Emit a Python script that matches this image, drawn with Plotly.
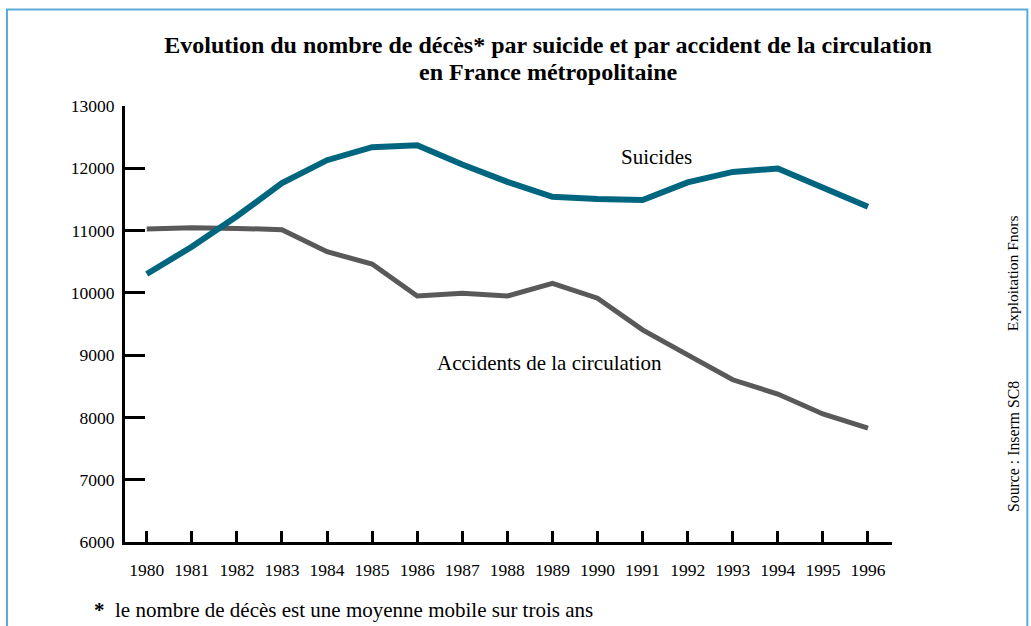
import plotly.graph_objects as go

years = list(range(1980, 1997))
suicides = [10303, 10740, 11230, 11761, 12130, 12338, 12370, 12061, 11782,
            11542, 11505, 11489, 11773, 11942, 11997, 11692, 11381]
accidents = [11024, 11045, 11035, 11015, 10660, 10463, 9950, 9994, 9950,
             10154, 9914, 9406, 9005, 8604, 8375, 8055, 7830]
y_ticks = [6000, 7000, 8000, 9000, 10000, 11000, 12000, 13000]
y_labels = [str(v) for v in y_ticks]
x_labels = [str(y) for y in years]

W, H = 1031, 626
L, R, T, B = 125, 891.7, 105.7, 542.5
PW, PH = R - L, B - T


def px(x):
    return (x - L) / PW


def py(y):
    return (B - y) / PH


SERIF = "Liberation Serif"

fig = go.Figure()
fig.add_trace(go.Scatter(x=years, y=accidents, mode="lines",
                         line=dict(color="#595959", width=5),
                         name="Accidents de la circulation", showlegend=False))
fig.add_trace(go.Scatter(x=years, y=suicides, mode="lines",
                         line=dict(color="#00657f", width=6),
                         name="Suicides", showlegend=False))

fig.update_layout(
    width=W, height=H, autosize=False,
    margin=dict(l=L, r=W - R, t=T, b=H - B),
    paper_bgcolor="white", plot_bgcolor="white",
    font=dict(family=SERIF, size=17, color="black"),
    title=dict(
        text="<b>Evolution du nombre de décès* par suicide et par accident de la circulation</b>",
        font=dict(family=SERIF, size=24, color="black"),
        xref="container", yref="container",
        x=548 / W, xanchor="center", y=1 - 45 / H, yanchor="middle",
    ),
    xaxis=dict(
        range=[1979.518, 1996.533], tickmode="array", tickvals=years, ticktext=x_labels,
        ticks="inside", ticklen=11, tickwidth=2.5, tickcolor="black",
        showline=True, linecolor="black", linewidth=3,
        showgrid=False, zeroline=False, ticklabelstandoff=10,
        tickfont=dict(family=SERIF, size=17.5, color="black"),
    ),
    yaxis=dict(
        range=[6000, 13000], tickmode="array", tickvals=y_ticks, ticktext=y_labels,
        ticks="inside", ticklen=20, tickwidth=2.5, tickcolor="black",
        showline=True, linecolor="black", linewidth=3,
        showgrid=False, zeroline=False, ticklabelstandoff=4,
        tickfont=dict(family=SERIF, size=17.5, color="black"),
    ),
)

fig.add_shape(type="path",
              path=f"M {px(7)},{py(640)} L {px(7)},{py(9)} L {px(1027)},{py(9)} L {px(1027)},{py(640)}",
              xref="paper", yref="paper",
              line=dict(color="#5aa9d6", width=2))

fig.add_annotation(text="<b>en France métropolitaine</b>", x=px(548), y=py(72),
                   xref="paper", yref="paper", showarrow=False,
                   xanchor="center", yanchor="middle",
                   font=dict(family=SERIF, size=24, color="black"))

annos = [
    dict(text="Suicides", x=px(656), y=py(157), size=21, angle=0),
    dict(text="Accidents de la circulation", x=px(549), y=py(363), size=21, angle=0),
    dict(text="Exploitation Fnors", x=px(1013), y=py(273), size=15.5, angle=-90),
    dict(text="Source : Inserm SC8", x=px(1013), y=py(447), size=15.8, angle=-90),
]
for a in annos:
    fig.add_annotation(text=a["text"], x=a["x"], y=a["y"], xref="paper", yref="paper",
                       showarrow=False, textangle=a["angle"], xanchor="center", yanchor="middle",
                       font=dict(family=SERIF, size=a["size"], color="black"))

fig.add_annotation(text="<b>*</b>  le nombre de décès est une moyenne mobile sur trois ans",
                   x=px(92), y=py(611), xref="paper", yref="paper", showarrow=False,
                   xanchor="left", yanchor="middle",
                   font=dict(family=SERIF, size=21, color="black"))

fig.write_html("out.html", config={"displayModeBar": False},
               post_script="document.body.style.margin='0';document.body.style.overflow='hidden';")
